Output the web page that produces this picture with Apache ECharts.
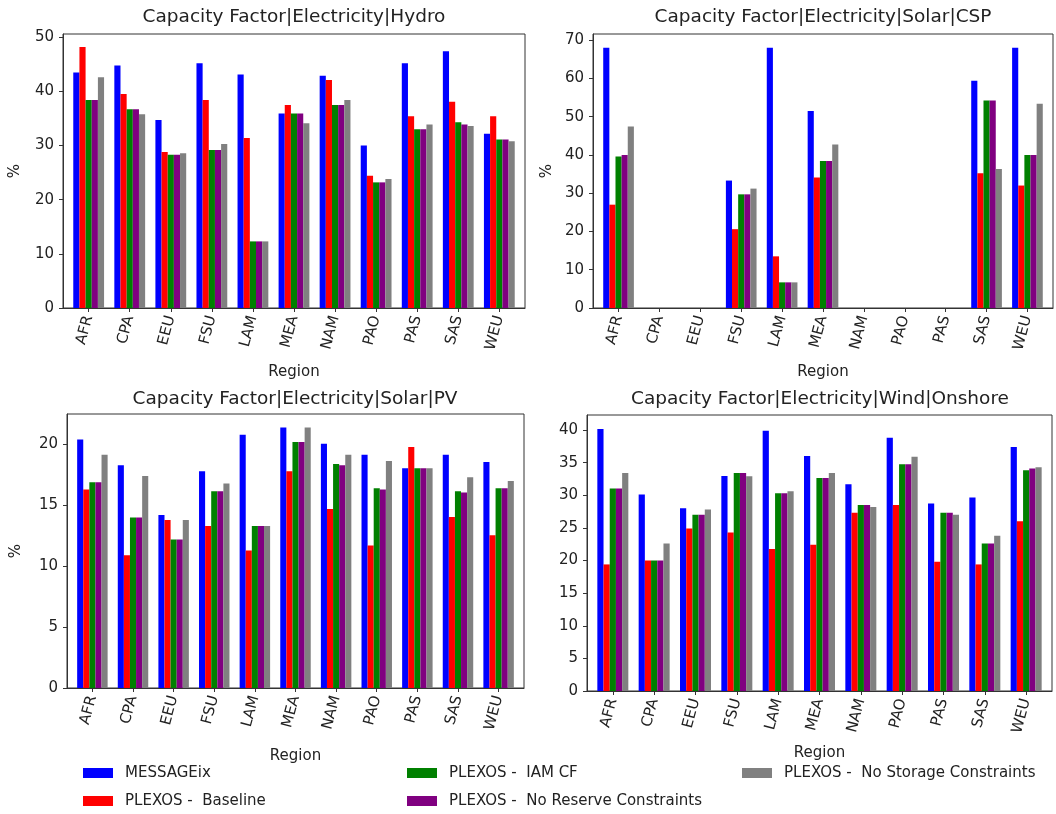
<!DOCTYPE html>
<html>
<head>
<meta charset="utf-8">
<script src="https://cdn.jsdelivr.net/npm/echarts@6/dist/echarts.min.js"></script>
<style>
  html, body { margin: 0; padding: 0; background: #fff; }
  #chart { width: 1056px; height: 814px; }
</style>
</head>
<body>
<div id="chart"></div>
<script>
// ---------- data ----------
const regions = ['AFR','CPA','EEU','FSU','LAM','MEA','NAM','PAO','PAS','SAS','WEU'];
const seriesNames = ['MESSAGEix','PLEXOS -  Baseline','PLEXOS -  IAM CF','PLEXOS -  No Reserve Constraints','PLEXOS -  No Storage Constraints'];
const seriesColors = ['#0000ff','#ff0000','#008000','#800080','#808080'];

const panelTitles = [
  'Capacity Factor|Electricity|Hydro',
  'Capacity Factor|Electricity|Solar|CSP',
  'Capacity Factor|Electricity|Solar|PV',
  'Capacity Factor|Electricity|Wind|Onshore'
];

// Hydro
const hydroMessage    = [43.5, 44.8, 34.7, 45.2, 43.1, 35.9, 42.9, 30.0, 45.2, 47.4, 32.2];
const hydroBaseline   = [48.2, 39.5, 28.8, 38.4, 31.4, 37.5, 42.1, 24.4, 35.4, 38.1, 35.4];
const hydroIamCf      = [38.4, 36.7, 28.3, 29.2, 12.3, 35.9, 37.5, 23.2, 33.0, 34.3, 31.1];
const hydroNoReserve  = [38.4, 36.7, 28.3, 29.2, 12.3, 35.9, 37.5, 23.2, 33.0, 33.9, 31.1];
const hydroNoStorage  = [42.6, 35.8, 28.6, 30.3, 12.3, 34.1, 38.4, 23.8, 33.9, 33.6, 30.8];

// Solar CSP
const cspMessage    = [68.0, 0, 0, 33.3, 68.0, 51.5, 0, 0, 0, 59.4, 68.0];
const cspBaseline   = [27.0, 0, 0, 20.6, 13.5, 34.1, 0, 0, 0, 35.2, 32.0];
const cspIamCf      = [39.6, 0, 0, 29.7, 6.7, 38.4, 0, 0, 0, 54.2, 40.0];
const cspNoReserve  = [40.0, 0, 0, 29.7, 6.7, 38.4, 0, 0, 0, 54.2, 40.0];
const cspNoStorage  = [47.4, 0, 0, 31.2, 6.7, 42.7, 0, 0, 0, 36.3, 53.4];

// Solar PV
const pvMessage    = [20.4, 18.3, 14.2, 17.8, 20.8, 21.4, 20.05, 19.15, 18.05, 19.15, 18.55];
const pvBaseline   = [16.3, 10.9, 13.8, 13.3, 11.3, 17.8, 14.7, 11.7, 19.8, 14.05, 12.55];
const pvIamCf      = [16.9, 14.0, 12.2, 16.15, 13.3, 20.2, 18.4, 16.4, 18.05, 16.15, 16.4];
const pvNoReserve  = [16.9, 14.0, 12.2, 16.15, 13.3, 20.2, 18.3, 16.3, 18.05, 16.05, 16.4];
const pvNoStorage  = [19.15, 17.4, 13.8, 16.8, 13.3, 21.4, 19.15, 18.65, 18.05, 17.3, 17.0];

// Wind Onshore
const windMessage    = [40.15, 30.1, 28.0, 32.95, 39.9, 36.0, 31.7, 38.8, 28.75, 29.65, 37.4];
const windBaseline   = [19.4, 20.0, 24.9, 24.3, 21.75, 22.4, 27.3, 28.5, 19.8, 19.4, 26.0];
const windIamCf      = [31.05, 20.0, 27.0, 33.4, 30.3, 32.65, 28.5, 34.75, 27.3, 22.6, 33.85];
const windNoReserve  = [31.05, 20.0, 27.0, 33.4, 30.3, 32.65, 28.5, 34.75, 27.3, 22.6, 34.1];
const windNoStorage  = [33.4, 22.6, 27.8, 32.9, 30.6, 33.4, 28.2, 35.9, 27.0, 23.8, 34.3];

// tick labels
const hydroTicks = [0, 10, 20, 30, 40, 50];
const cspTicks   = [0, 10, 20, 30, 40, 50, 60, 70];
const pvTicks    = [0, 5, 10, 15, 20];
const windTicks  = [0, 5, 10, 15, 20, 25, 30, 35, 40];
const yMax = [50.6, 71.6, 22.5, 42.3];

const panelData = [
  [hydroMessage, hydroBaseline, hydroIamCf, hydroNoReserve, hydroNoStorage],
  [cspMessage, cspBaseline, cspIamCf, cspNoReserve, cspNoStorage],
  [pvMessage, pvBaseline, pvIamCf, pvNoReserve, pvNoStorage],
  [windMessage, windBaseline, windIamCf, windNoReserve, windNoStorage]
];
const panelTicks = [hydroTicks, cspTicks, pvTicks, windTicks];

// ---------- layout ----------
const FONT = 'DejaVu Sans';
const TXT = '#222';
const LINE = '#333';
const grids = [
  { left: 63,  top: 34,  width: 462, height: 274 },
  { left: 593, top: 34,  width: 460, height: 274 },
  { left: 67,  top: 414, width: 457, height: 274 },
  { left: 587, top: 415, width: 465, height: 276 }
];
const titleCenters = [[294, 8], [823, 8], [295, 390], [820, 390]];
const regionGaps = [57, 57, 61, 55];
const pctGaps = [40, 38, 43, null];
const xIdx = regions.map((_, i) => i);

const option = {
  animation: false,
  backgroundColor: '#fff',
  textStyle: { fontFamily: FONT },
  title: panelTitles.map((t, i) => ({
    text: t,
    left: titleCenters[i][0],
    top: titleCenters[i][1],
    textAlign: 'center',
    padding: 0,
    textStyle: { fontFamily: FONT, fontSize: 18.5, fontWeight: 'normal', color: TXT }
  })),
  grid: grids.map(g => Object.assign({ show: true, borderColor: LINE, borderWidth: 1, backgroundColor: 'transparent', containLabel: false }, g)),
  xAxis: grids.map((g, i) => ({
    type: 'value',
    gridIndex: i,
    min: -0.625,
    max: 10.625,
    name: 'Region',
    nameLocation: 'middle',
    nameGap: regionGaps[i],
    nameTextStyle: { fontFamily: FONT, fontSize: 15, color: TXT },
    splitLine: { show: false },
    axisLine: { show: true, onZero: false, lineStyle: { color: LINE, width: 1 } },
    axisTick: { show: true, length: 4, lineStyle: { color: LINE }, customValues: xIdx },
    axisLabel: {
      customValues: xIdx,
      formatter: v => regions[Math.round(v)] || '',
      rotate: 75,
      margin: 8,
      fontFamily: FONT, fontSize: 15, color: TXT
    }
  })),
  yAxis: grids.map((g, i) => ({
    type: 'value',
    gridIndex: i,
    min: 0,
    max: yMax[i],
    name: pctGaps[i] === null ? '' : '%',
    nameLocation: 'middle',
    nameRotate: 90,
    nameGap: pctGaps[i] === null ? 0 : pctGaps[i],
    nameTextStyle: { fontFamily: FONT, fontSize: 15, color: TXT },
    splitLine: { show: false },
    axisLine: { show: true, onZero: false, lineStyle: { color: LINE, width: 1 } },
    axisTick: { show: true, length: 4, lineStyle: { color: LINE }, customValues: panelTicks[i] },
    axisLabel: { customValues: panelTicks[i], margin: 9, fontFamily: FONT, fontSize: 15, color: TXT }
  })),
  legend: [
    { data: [seriesNames[0], seriesNames[1]], left: 83, top: 764 },
    { data: [seriesNames[2], seriesNames[3]], left: 407, top: 764 },
    { data: [seriesNames[4]], left: 742, top: 764 }
  ].map(l => Object.assign({
    orient: 'vertical',
    icon: 'rect',
    itemWidth: 30,
    itemHeight: 10,
    itemGap: 10,
    padding: 0,
    selectedMode: false,
    textStyle: { fontFamily: FONT, fontSize: 15, color: TXT, lineHeight: 18, padding: [0, 0, 0, 7] }
  }, l)),
  series: []
};

panelData.forEach((arrs, p) => {
  arrs.forEach((vals, s) => {
    option.series.push({
      type: 'bar',
      name: seriesNames[s],
      xAxisIndex: p,
      yAxisIndex: p,
      barGap: '0%',
      barCategoryGap: '25%',
      itemStyle: { color: seriesColors[s] },
      emphasis: { disabled: true },
      data: vals.map((v, i) => [xIdx[i], v])
    });
  });
});

const chart = echarts.init(document.getElementById('chart'), null, { renderer: 'canvas' });
chart.setOption(option);
</script>
</body>
</html>
